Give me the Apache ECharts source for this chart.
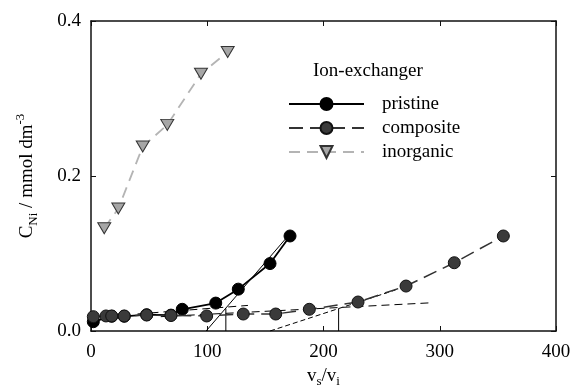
<!DOCTYPE html>
<html><head><meta charset="utf-8">
<script src="https://cdn.jsdelivr.net/npm/echarts@6/dist/echarts.min.js"></script>
<style>html,body{margin:0;padding:0;background:#fff}#c{width:572px;height:386px}</style>
</head><body><div id="c"></div>
<script>
// ---- data ----
const xTicks = [0, 100, 200, 300, 400];
const yTicks = [0.0, 0.2, 0.4];
const seriesNames = ['pristine', 'composite', 'inorganic'];
const pristineX = [2, 17.8, 28.6, 47.9, 68.8, 78.5, 107.3, 126.7, 154, 171.2];
const pristineY = [0.012, 0.019, 0.019, 0.021, 0.0205, 0.028, 0.036, 0.054, 0.087, 0.1226];
const compositeX = [2, 12.9, 17.8, 28.6, 47.9, 68.8, 99.5, 131, 158.9, 187.8, 229.7, 271, 312.5, 354.7];
const compositeY = [0.0185, 0.0194, 0.0194, 0.0194, 0.0206, 0.0200, 0.0194, 0.0219, 0.0219, 0.028, 0.0374, 0.058, 0.0881, 0.1226];
const inorganicX = [11.4, 23.5, 44.5, 65.6, 94.6, 117.6];
const inorganicY = [0.1325, 0.158, 0.238, 0.266, 0.332, 0.360];
// construction (break-point) lines
const pristineTangentX = [99, 170];
const pristineTangentY = [0, 0.1235];
const pristineBaseX = [40, 135];
const pristineBaseY = [0.022, 0.033];
const pristineDropX = [116, 116];
const pristineDropY = [0, 0.029];
const compositeTangentX = [154, 262];
const compositeTangentY = [0, 0.053];
const compositeBaseX = [60, 294];
const compositeBaseY = [0.0185, 0.0365];
const compositeDropX = [213, 213];
const compositeDropY = [0, 0.029];
const legendTitle = 'Ion-exchanger';

const zip = (xs, ys) => xs.map((x, i) => [x, ys[i]]);
const FONT = 'Liberation Serif';

function helper(xs, ys, type, width) {
  return {
    type: 'line', data: zip(xs, ys), symbol: 'none', silent: true,
    lineStyle: { color: '#000', width: width, type: type }, z: 1
  };
}

const chart = echarts.init(document.getElementById('c'), null, { renderer: 'canvas' });
const axisLine = { show: true, onZero: false, lineStyle: { color: '#111', width: 1.5 } };
const tick = { show: true, inside: true, length: 5, lineStyle: { color: '#111', width: 1 } };
chart.setOption({
  animation: false,
  backgroundColor: '#fff',
  textStyle: { fontFamily: FONT },
  title: {
    text: legendTitle, left: 313, top: 62, padding: 0,
    textStyle: { fontFamily: FONT, fontSize: 19, fontWeight: 'normal', color: '#000' }
  },
  legend: {
    data: seriesNames, orient: 'vertical', left: 288, top: 94.5, padding: 0,
    itemWidth: 75, itemHeight: 15, itemGap: 5,
    textStyle: { fontFamily: FONT, fontSize: 19, color: '#000', padding: [0, 0, 0, 13] }
  },
  grid: { left: 91, right: 16, top: 21, bottom: 55, outerBoundsMode: 'none', containLabel: false },
  xAxis: [{
    type: 'value', min: xTicks[0], max: xTicks[xTicks.length - 1], interval: 100,
    axisLine: axisLine, axisTick: tick, splitLine: { show: false },
    axisLabel: { margin: 12, fontFamily: FONT, fontSize: 19, color: '#000' },
    name: '{b|v}{s|s}{b|/v}{s|i}', nameLocation: 'middle', nameGap: 32,
    nameTextStyle: {
      fontFamily: FONT, color: '#000',
      rich: {
        b: { fontFamily: FONT, fontSize: 19, lineHeight: 24, verticalAlign: 'middle', color: '#000' },
        s: { fontFamily: FONT, fontSize: 13, lineHeight: 24, verticalAlign: 'bottom', color: '#000' }
      }
    }
  }, {
    type: 'value', position: 'top', min: xTicks[0], max: xTicks[xTicks.length - 1], interval: 100,
    axisLine: axisLine, axisTick: tick, axisLabel: { show: false }, splitLine: { show: false }
  }],
  yAxis: [{
    type: 'value', min: yTicks[0], max: yTicks[yTicks.length - 1], interval: 0.2,
    axisLine: axisLine, axisTick: tick, splitLine: { show: false },
    axisLabel: { margin: 10, fontFamily: FONT, fontSize: 19, color: '#000', formatter: v => v.toFixed(1) },
    name: '{b|C}{s|Ni}{b| / mmol dm}{p|-3}', nameLocation: 'middle', nameGap: 51,
    nameTextStyle: {
      fontFamily: FONT, color: '#000',
      rich: {
        b: { fontFamily: FONT, fontSize: 19, lineHeight: 26, verticalAlign: 'middle', color: '#000' },
        s: { fontFamily: FONT, fontSize: 13, lineHeight: 26, verticalAlign: 'bottom', color: '#000' },
        p: { fontFamily: FONT, fontSize: 13, lineHeight: 26, verticalAlign: 'top', color: '#000' }
      }
    }
  }, {
    type: 'value', position: 'right', min: yTicks[0], max: yTicks[yTicks.length - 1], interval: 0.2,
    axisLine: axisLine, axisTick: tick, axisLabel: { show: false }, splitLine: { show: false }
  }],
  series: [
    helper(pristineBaseX, pristineBaseY, [8, 5], 1),
    helper(compositeBaseX, compositeBaseY, [8, 5], 1),
    helper(compositeTangentX, compositeTangentY, [5, 3], 1),
    helper(pristineTangentX, pristineTangentY, 'solid', 1),
    helper(pristineDropX, pristineDropY, 'solid', 1),
    helper(compositeDropX, compositeDropY, 'solid', 1),
    {
      name: seriesNames[0], type: 'line', data: zip(pristineX, pristineY),
      symbol: 'circle', symbolSize: 12, z: 3,
      lineStyle: { color: '#000', width: 1.8, type: 'solid' },
      itemStyle: { color: '#000', borderColor: '#000', borderWidth: 1 }
    },
    {
      name: seriesNames[1], type: 'line', data: zip(compositeX, compositeY),
      symbol: 'circle', symbolSize: 12, z: 4,
      lineStyle: { color: '#333', width: 1.5, type: [14, 7] },
      itemStyle: { color: '#3a3a3a', borderColor: '#111', borderWidth: 1 }
    },
    {
      name: seriesNames[2], type: 'line', data: zip(inorganicX, inorganicY),
      symbol: 'triangle', symbolRotate: 180, symbolSize: [13, 11], z: 5,
      lineStyle: { color: '#b4b4b4', width: 1.8, type: [11, 7] },
      itemStyle: { color: '#a6a6a6', borderColor: '#333', borderWidth: 1 }
    }
  ]
});
</script>
</body></html>
